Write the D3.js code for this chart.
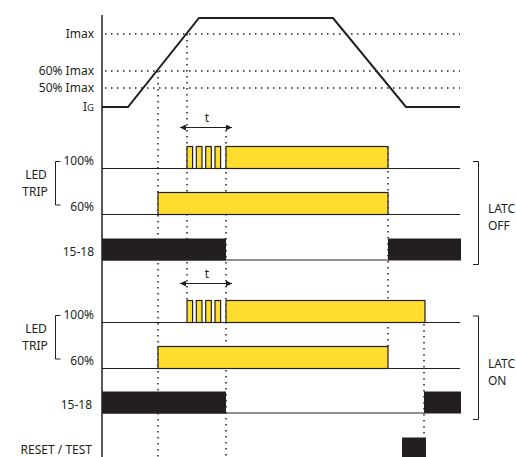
<!DOCTYPE html>
<html><head><meta charset="utf-8">
<script src="https://cdn.jsdelivr.net/npm/d3@7/dist/d3.min.js"></script>
<style>
body{margin:0;background:#fff;}
text{font-family:"Noto Sans",sans-serif;fill:#231f20;}
</style></head>
<body>
<svg id="c" width="516" height="457"></svg>
<script>
// ---- data ----
const levelLabels = ["Imax", "60% Imax", "50% Imax", "IG"];
const levelValues = [100, 60, 50, 20];
const currentT = [0, 26, 97, 231, 304, 358];
const currentV = [20, 20, 125, 125, 20, 20];
const rowLabels = ["100%", "60%", "15-18"];
const offLed100 = [[85, 90.6], [94.3, 100], [103.7, 109.3], [113, 118.6], [124, 286]];
const offLed60 = [[56, 286]];
const offRelay = [[0, 124], [286, 359]];
const onLed100 = [[85, 90.6], [94.3, 100], [103.7, 109.3], [113, 118.6], [124, 323]];
const onLed60 = [[56, 286]];
const onRelay = [[0, 124], [322, 359]];
const resetTest = [[300, 324]];
const markerT = [56, 85, 124, 286, 322];
const tSpan = [78, 130];

// ---- layout ----
const ink = "#231f20", yellow = "#fedd2e", fs = "12px";
const svg = d3.select("#c");
const x = d3.scaleLinear().domain([0, 360]).range([102, 462]);
const yI = d3.scaleLinear().domain([20, 50, 60, 100, 125]).range([107, 88, 71, 34, 18]);
const hi = d3.scaleLinear().domain([0, 1]).range([0, -22]);
const xEnd = 358;

// horizontal dotted level lines
levelValues.slice(0, 3).forEach(v => {
  svg.append("line").attr("x1", x(0) + 3).attr("x2", x(xEnd)).attr("y1", yI(v)).attr("y2", yI(v))
    .attr("stroke", ink).attr("stroke-width", 1.5).attr("stroke-dasharray", "1.5,4.5");
});
// level labels
levelLabels.forEach((l, i) => {
  const t = svg.append("text").attr("x", 94).attr("y", yI(levelValues[i])).attr("dy", "0.35em")
    .attr("text-anchor", "end").style("font-size", fs);
  if (l === "IG") { t.append("tspan").text("I"); t.append("tspan").style("font-size", "9.5px").text("G"); }
  else t.text(l);
});

// vertical dotted markers (extent = layout)
const markerY = [[71, 457], [34, 300], [130, 457], [147, 347], [300, 437]];
markerT.forEach((t, i) => {
  svg.append("line").attr("x1", x(t)).attr("x2", x(t)).attr("y1", markerY[i][0]).attr("y2", markerY[i][1])
    .attr("stroke", ink).attr("stroke-width", 1.5).attr("stroke-dasharray", "1.5,4.5");
});

// current waveform
svg.append("path").datum(currentT.map((t, i) => [t, currentV[i]]))
  .attr("d", d3.line().x(d => x(d[0])).y(d => yI(d[1])))
  .attr("fill", "none").attr("stroke", ink).attr("stroke-width", 2).attr("stroke-linejoin", "miter");

// axis
svg.append("line").attr("x1", x(0)).attr("x2", x(0)).attr("y1", 15).attr("y2", 457)
  .attr("stroke", ink).attr("stroke-width", 1.5);

// t arrows
const defs = svg.append("defs");
defs.append("marker").attr("id", "ah").attr("viewBox", "0 0 10 10").attr("refX", 10).attr("refY", 5)
  .attr("markerWidth", 7).attr("markerHeight", 6).attr("orient", "auto-start-reverse").attr("markerUnits", "userSpaceOnUse")
  .append("path").attr("d", "M0,0L10,5L0,10z").attr("fill", ink);
[127.5, 283.5].forEach(yy => {
  svg.append("line").attr("x1", x(tSpan[0])).attr("x2", x(tSpan[1])).attr("y1", yy).attr("y2", yy)
    .attr("stroke", ink).attr("stroke-width", 1.2)
    .attr("marker-start", "url(#ah)").attr("marker-end", "url(#ah)");
  svg.append("text").attr("x", x((tSpan[0] + tSpan[1]) / 2) + 1).attr("y", yy - 6)
    .attr("text-anchor", "middle").style("font-size", fs).text("t");
});

// signal rows
function ledRow(base, segs, baseEnd) {
  svg.append("line").attr("x1", x(0)).attr("x2", x(baseEnd)).attr("y1", base).attr("y2", base)
    .attr("stroke", ink).attr("stroke-width", 1);
  svg.selectAll(null).data(segs).enter().append("rect")
    .attr("x", d => x(d[0])).attr("width", d => x(d[1]) - x(d[0]))
    .attr("y", base + hi(1)).attr("height", -hi(1))
    .attr("fill", yellow).attr("stroke", ink).attr("stroke-width", 1.2);
}
function relayRow(base, segs, baseline) {
  if (baseline) svg.append("line").attr("x1", x(0)).attr("x2", x(segs[segs.length - 1][0])).attr("y1", base - 0.5).attr("y2", base - 0.5)
    .attr("stroke", ink).attr("stroke-width", 1);
  svg.selectAll(null).data(segs).enter().append("rect")
    .attr("x", d => x(d[0])).attr("width", d => x(d[1]) - x(d[0]))
    .attr("y", base + hi(1)).attr("height", -hi(1)).attr("fill", ink);
}
const panels = [
  {bases: [168.5, 214.5, 260.5], led100: offLed100, led60: offLed60, relay: offRelay, name: ["LATC", "OFF"], br: [161.5, 264.5]},
  {bases: [322.5, 368.5, 413.5], led100: onLed100, led60: onLed60, relay: onRelay, name: ["LATC", "ON"], br: [316, 419.5]}
];
panels.forEach((p, pi) => {
  ledRow(p.bases[0], p.led100, xEnd);
  ledRow(p.bases[1], p.led60, xEnd);
  relayRow(p.bases[2], p.relay, true);
  // row labels
  svg.append("text").attr("x", 94).attr("y", p.bases[0] - 8).attr("dy", "0.35em").attr("text-anchor", "end").style("font-size", fs).text(rowLabels[0]);
  svg.append("text").attr("x", 94).attr("y", p.bases[1] - 8).attr("dy", "0.35em").attr("text-anchor", "end").style("font-size", fs).text(rowLabels[1]);
  svg.append("text").attr("x", pi === 0 ? 94 : 92).attr("y", p.bases[2] - 8.5).attr("dy", "0.35em").attr("text-anchor", "end").style("font-size", fs).text(rowLabels[2]);
  // left bracket
  const bt = p.bases[0] - 7, bb = p.bases[1] - 9.5;
  svg.append("path").attr("d", `M60.5,${bt}H55.5V${bb}H60.5`).attr("fill", "none").attr("stroke", ink).attr("stroke-width", 1);
  svg.append("text").attr("x", 36).attr("y", (bt + bb) / 2 - 8.5).attr("dy", "0.35em").attr("text-anchor", "middle").style("font-size", fs).text("LED");
  svg.append("text").attr("x", 35).attr("y", (bt + bb) / 2 + 8.5).attr("dy", "0.35em").attr("text-anchor", "middle").style("font-size", fs).text("TRIP");
  // right bracket
  svg.append("path").attr("d", `M473,${p.br[0]}H478.5V${p.br[1]}H473`).attr("fill", "none").attr("stroke", ink).attr("stroke-width", 1);
  const mid = (p.br[0] + p.br[1]) / 2;
  svg.append("text").attr("x", 488).attr("y", mid - 4).attr("dy", "0.35em").style("font-size", fs).text(p.name[0]);
  svg.append("text").attr("x", 488).attr("y", mid + 13).attr("dy", "0.35em").style("font-size", fs).text(p.name[1]);
});
// reset / test
relayRow(459.5, resetTest, false);
svg.append("text").attr("x", 92).attr("y", 450).attr("dy", "0.35em").attr("text-anchor", "end").style("font-size", fs).text("RESET / TEST");
</script>
</body></html>
